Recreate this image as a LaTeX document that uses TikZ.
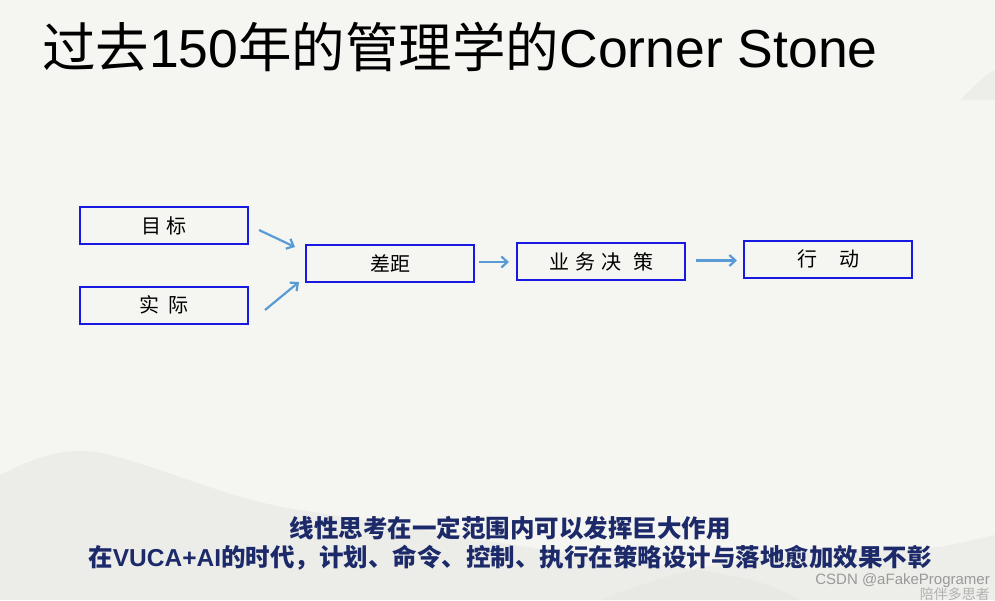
\documentclass[tikz,border=0pt]{standalone}
\usepackage{fontspec}
\setmainfont{Liberation Sans}
\newfontfamily\cjk{Noto Sans CJK SC}
\usetikzlibrary{arrows.meta,positioning}

\definecolor{boxblue}{HTML}{1818E0}
\definecolor{arrowblue}{HTML}{5B9BD5}
\definecolor{navy}{HTML}{1C2A6A}
\definecolor{paper}{HTML}{F5F5F1}
\definecolor{hill}{HTML}{E6E6E2}

\begin{document}
\begin{tikzpicture}[x=1pt,y=-1pt,
  box/.style={draw=boxblue,line width=2pt,minimum width=168pt,minimum height=37pt,inner sep=0pt,
    font=\cjk\fontsize{20}{22}\selectfont},
  arr/.style={draw=arrowblue,line width=2.2pt,-{Straight Barb[length=6pt,width=11pt]}},
  note/.style={text=navy,font=\bfseries\fontsize{24.5}{28}\selectfont,anchor=base,inner sep=0pt}]

  % background
  \fill[paper] (0,0) rectangle (995,600);
  \useasboundingbox (0,0) rectangle (995,600);
  \fill[hill,opacity=.6] (0,475) .. controls (40,455) and (70,445) .. (110,455)
    .. controls (170,470) and (230,500) .. (300,510) .. controls (400,525) and (500,545) .. (620,560)
    .. controls (700,570) and (760,575) .. (800,600) -- (0,600) -- cycle;
  \fill[hill,opacity=.5] (600,600) .. controls (700,560) and (800,545) .. (880,550)
    .. controls (930,553) and (970,540) .. (995,535) -- (995,600) -- cycle;
  \fill[hill,opacity=.5] (960,100) .. controls (975,85) and (985,75) .. (995,70) -- (995,100) -- cycle;

  % title
  \node[anchor=base west,inner sep=0pt,font=\fontsize{53.5}{56}\selectfont] (title) at (42,67.5)
    {{\cjk 过去}150{\cjk 年的管理学的}Corner Stone};

  % boxes
  \node[box] (mubiao) at (164,225.5) {目\hspace{5pt}标};
  \node[box] (shiji) at (164,305) {实\hspace{9pt}际};
  \node[box] (chaju) at (390,263) {差距};
  \node[box] (yewu) at (601,261.5) {业\hspace{6pt}务\hspace{6pt}决\hspace{12pt}策};
  \node[box] (xingdong) at (828,259) {行\hspace{22pt}动};

  % arrows
  \draw[arr] ([xshift=10pt,yshift=-4.5pt]mubiao.east) -- ([xshift=-10pt,yshift=16pt]chaju.west);
  \draw[arr] ([xshift=16pt,yshift=-5pt]shiji.east) -- ([xshift=-6pt,yshift=-19pt]chaju.west);
  \draw[arr] ([xshift=4pt,yshift=1pt]chaju.east) -- ([xshift=-7pt,yshift=1pt]yewu.west |- chaju.east);
  \draw[arr] ([xshift=10pt,yshift=1pt]yewu.east) -- ([xshift=-6pt,yshift=1pt]xingdong.west |- yewu.east);

  % notes
  \node[note] (line1) at (510,537) {\cjk 线性思考在一定范围内可以发挥巨大作用};
  \node[note] (line2) at (510,566)
    {{\cjk 在}VUCA+AI{\cjk 的时代，计划、命令、控制、执行在策略设计与落地愈加效果不彰}};

  % watermark
  \node[anchor=base east,inner sep=0pt,text=black!30,font=\cjk\fontsize{14}{14}\selectfont] (seal) at (990,599.5) {陪伴多思者};
  \node[anchor=base east,inner sep=0pt,text=black!40,font=\fontsize{15}{15}\selectfont] (csdn) at (990,584) {CSDN @aFakeProgramer};
\end{tikzpicture}
\end{document}
